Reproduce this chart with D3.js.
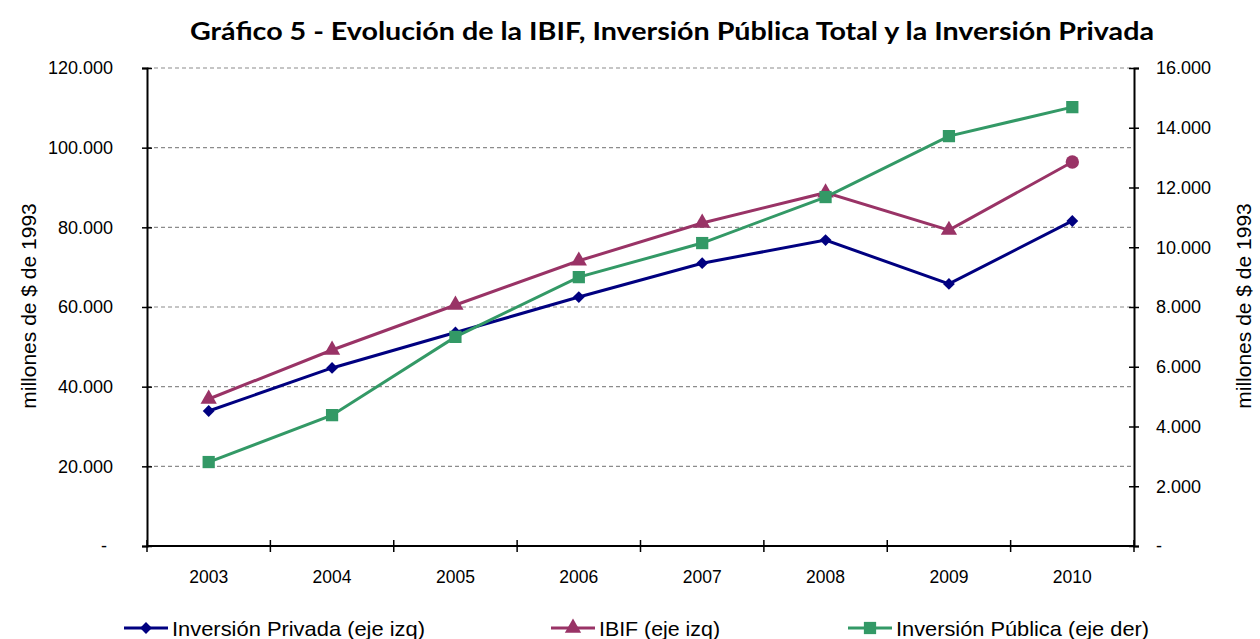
<!DOCTYPE html>
<html>
<head>
<meta charset="utf-8">
<script src="https://cdn.jsdelivr.net/npm/d3@7"></script>
<style>
  body { margin: 0; background: #fff; }
  svg { display: block; }
</style>
</head>
<body>
<div id="chart"></div>
<script>
// Data
const years = ['2003', '2004', '2005', '2006', '2007', '2008', '2009', '2010'];
const privada = [33900, 44700, 53600, 62500, 71000, 76800, 65800, 81600];   // eje izq
const ibif = [36900, 49200, 60500, 71600, 81100, 88700, 79300, 96400];      // eje izq
const publica = [2810, 4380, 7000, 9000, 10140, 11680, 13720, 14690];       // eje der
const leftTicks = [0, 20000, 40000, 60000, 80000, 100000, 120000];
const rightTicks = [0, 2000, 4000, 6000, 8000, 10000, 12000, 14000, 16000];

const width = 1260, height = 639;
const margin = {top: 68, right: 126, bottom: 93, left: 147};
const plotW = width - margin.left - margin.right;
const plotH = height - margin.top - margin.bottom;

const fmt = v => v === 0 ? '-' : d3.format(',')(v).replace(/,/g, '.');

const svg = d3.select('#chart')
  .append('svg')
    .attr('width', width)
    .attr('height', height);

// Title
svg.append('text')
  .attr('x', 672)
  .attr('y', 40)
  .attr('text-anchor', 'middle')
  .attr('font-family', 'Lato, "Open Sans", sans-serif')
  .attr('font-weight', 'bold')
  .attr('font-size', 25)
  .attr('textLength', 964)
  .attr('lengthAdjust', 'spacingAndGlyphs')
  .text('Gráfico 5 - Evolución de la IBIF, Inversión Pública Total y la Inversión Privada');

const g = svg.append('g')
  .attr('transform', 'translate(' + margin.left + ',' + margin.top + ')');

// Scales
const x = d3.scaleBand().domain(years).range([0, plotW]);
const yL = d3.scaleLinear().domain([0, 120000]).range([plotH, 0]);
const yR = d3.scaleLinear().domain([0, 16000]).range([plotH, 0]);
const cx = d => x(d) + x.bandwidth() / 2;

// Gridlines
g.append('g')
  .selectAll('line')
  .data(leftTicks.filter(t => t > 0))
  .enter()
  .append('line')
    .attr('x1', 0)
    .attr('x2', plotW)
    .attr('y1', d => yL(d))
    .attr('y2', d => yL(d))
    .attr('stroke', '#8c8c8c')
    .attr('stroke-width', 1.2)
    .attr('stroke-dasharray', '4,3');

const tickFont = 'Liberation Sans, Arial, sans-serif';

// Left axis
const axL = g.append('g')
  .call(d3.axisLeft(yL).tickValues(leftTicks).tickFormat(fmt).tickSize(5));
axL.select('.domain').attr('stroke', '#000').attr('stroke-width', 2);
axL.selectAll('.tick line').attr('x2', 5).attr('x1', -5).attr('stroke-width', 1.5);
axL.selectAll('.tick text')
  .attr('font-family', tickFont).attr('font-size', 18).attr('fill', '#000')
  .attr('x', d => d === 0 ? -40 : -34);

// Right axis
const axR = g.append('g')
  .attr('transform', 'translate(' + plotW + ',0)')
  .call(d3.axisRight(yR).tickValues(rightTicks).tickFormat(fmt).tickSize(5));
axR.select('.domain').attr('stroke', '#000').attr('stroke-width', 2);
axR.selectAll('.tick line').attr('x1', -5).attr('x2', 5).attr('stroke-width', 1.5);
axR.selectAll('.tick text')
  .attr('font-family', tickFont).attr('font-size', 18).attr('fill', '#000')
  .attr('x', 22);

// Bottom axis: ticks between categories
const axB = g.append('g')
  .attr('transform', 'translate(0,' + plotH + ')');
axB.append('line')
  .attr('x1', 0).attr('x2', plotW)
  .attr('stroke', '#000').attr('stroke-width', 2);
axB.selectAll('.sep')
  .data(years.concat(['end']))
  .enter()
  .append('line')
    .attr('class', 'sep')
    .attr('x1', (d, i) => i * x.bandwidth())
    .attr('x2', (d, i) => i * x.bandwidth())
    .attr('y1', -6).attr('y2', 6)
    .attr('stroke', '#000').attr('stroke-width', 1.5);
axB.selectAll('.lbl')
  .data(years)
  .enter()
  .append('text')
    .attr('class', 'lbl')
    .attr('x', d => cx(d))
    .attr('y', 37)
    .attr('text-anchor', 'middle')
    .attr('font-family', tickFont)
    .attr('font-size', 17.5)
    .text(d => d);

// Axis titles
svg.append('text')
  .attr('transform', 'translate(36,306) rotate(-90)')
  .attr('text-anchor', 'middle')
  .attr('font-family', tickFont)
  .attr('font-size', 21)
  .text('millones de $ de 1993');
svg.append('text')
  .attr('transform', 'translate(1251,306) rotate(-90)')
  .attr('text-anchor', 'middle')
  .attr('font-family', tickFont)
  .attr('font-size', 21)
  .text('millones de $ de 1993');

// Series
const series = [
  {name: 'Inversión Privada (eje izq)', values: privada, scale: yL, color: '#000080', symbol: d3.symbolSquare, size: 70, rotate: 45, textW: 253},
  {name: 'IBIF (eje izq)', values: ibif, scale: yL, color: '#993366', symbol: d3.symbolTriangle, size: 115, rotate: 0, textW: 121},
  {name: 'Inversión Pública (eje der)', values: publica, scale: yR, color: '#339966', symbol: d3.symbolSquare, size: 150, rotate: 0, textW: 253}
];

series.forEach(s => {
  const line = d3.line()
    .x((d, i) => cx(years[i]))
    .y(d => s.scale(d));
  g.append('path')
    .datum(s.values)
    .attr('fill', 'none')
    .attr('stroke', s.color)
    .attr('stroke-width', 3)
    .attr('d', line);
});

series.forEach(s => {
  g.append('g')
    .selectAll('path')
    .data(s.values)
    .enter()
    .append('path')
      .attr('transform', (d, i) => 'translate(' + cx(years[i]) + ',' + s.scale(d) + ') rotate(' + s.rotate + ')')
      .attr('d', (d, i) => {
        // the last IBIF point is drawn as a circle in the original
        if (s.symbol === d3.symbolTriangle && i === s.values.length - 1) {
          return d3.symbol().type(d3.symbolCircle).size(140)();
        }
        return d3.symbol().type(s.symbol).size(s.size)();
      })
      .attr('fill', s.color);
});

// Legend
const legendX = [124, 551, 848];
const legend = svg.append('g');
series.forEach((s, i) => {
  const lg = legend.append('g').attr('transform', 'translate(' + legendX[i] + ',628)');
  lg.append('line')
    .attr('x1', 0).attr('x2', 44)
    .attr('stroke', s.color).attr('stroke-width', 3);
  lg.append('path')
    .attr('transform', 'translate(22,0) rotate(' + s.rotate + ')')
    .attr('d', d3.symbol().type(s.symbol).size(s.size)())
    .attr('fill', s.color);
  lg.append('text')
    .attr('x', 48)
    .attr('y', 8)
    .attr('font-family', tickFont)
    .attr('font-size', 21)
    .attr('textLength', s.textW)
    .attr('lengthAdjust', 'spacingAndGlyphs')
    .text(s.name);
});
</script>
</body>
</html>
